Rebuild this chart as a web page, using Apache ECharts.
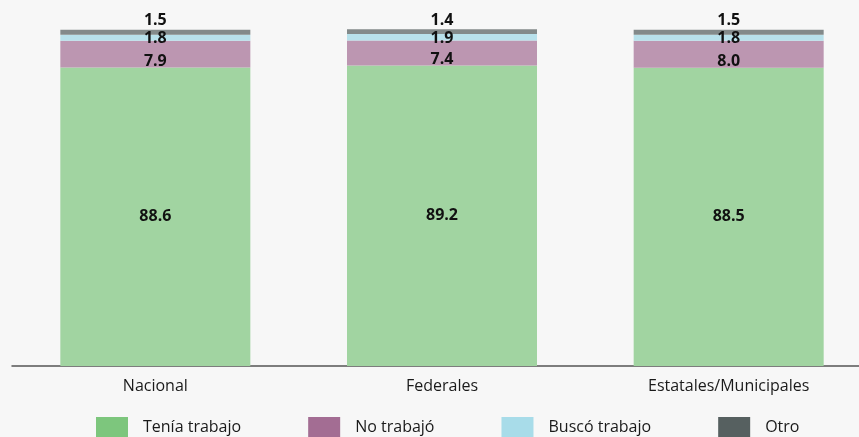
<!DOCTYPE html>
<html>
<head>
<meta charset="utf-8">
<script src="https://cdn.jsdelivr.net/npm/echarts@6/dist/echarts.min.js"></script>
<style>
html, body { margin: 0; padding: 0; background: #f7f7f7; overflow: hidden; }
#main { width: 872px; height: 437px; }
</style>
</head>
<body>
<div id="main"></div>
<script>
var categories = ['Nacional', 'Federales', 'Estatales/Municipales'];
var teniaTrabajo = [88.6, 89.2, 88.5];
var noTrabajo = [7.9, 7.4, 8.0];
var buscoTrabajo = [1.8, 1.9, 1.8];
var otro = [1.5, 1.4, 1.5];

var font = '"Open Sans", "Noto Sans", sans-serif';

// serie apilada con etiqueta
function makeSeries(name, data, color, label) {
	return {
		name : name,
		type : 'bar',
		stack : 'total',
		barWidth : 190,
		data : data,
		itemStyle : {
			color : color
		},
		label : label
	};
}

function labelCfg(pos, offset) {
	return {
		show : true,
		position : pos,
		offset : offset || [0, 0],
		distance : 1,
		color : '#111',
		textBorderWidth : 0,
		fontFamily : font,
		fontWeight : 'bold',
		fontSize : 16,
		formatter : function(p) {
			return p.value.toFixed(1);
		}
	};
}

var myChart = echarts.init(document.getElementById('main'));
var option = {
	backgroundColor : '#f7f7f7',
	animation : false,
	grid : {
		left : 12,
		right : 0,
		top : 29,
		bottom : 71
	},
	legend : {
		left : 91,
		top : 412,
		icon : 'rect',
		itemWidth : 32,
		itemHeight : 20,
		itemGap : 67,
		textStyle : {
			fontFamily : font,
			fontSize : 16,
			color : '#1a1a1a',
			padding : [0, 0, 0, 10]
		},
		data : [
			{ name : 'Tenía trabajo', itemStyle : { color : '#7dc67d' } },
			{ name : 'No trabajó', itemStyle : { color : '#a36d93' } },
			{ name : 'Buscó trabajo', itemStyle : { color : '#a8dce9' } },
			{ name : 'Otro', itemStyle : { color : '#566060' } }
		]
	},
	xAxis : {
		type : 'category',
		data : categories,
		axisLine : { lineStyle : { color : '#555', width : 1.5 } },
		axisTick : { show : false },
		axisLabel : {
			margin : 12,
			color : '#1a1a1a',
			fontFamily : font,
			fontSize : 16
		}
	},
	yAxis : {
		type : 'value',
		min : 0,
		max : 100,
		show : false,
		splitLine : { show : false }
	},
	series : [
		makeSeries('Tenía trabajo', teniaTrabajo, '#a1d4a1', labelCfg('inside')),
		makeSeries('No trabajó', noTrabajo, '#bc96b1', labelCfg('inside', [0, 7])),
		makeSeries('Buscó trabajo', buscoTrabajo, '#b8e1eb', labelCfg('inside', [0, 1])),
		makeSeries('Otro', otro, '#838a8a', labelCfg('top'))
	]
};
myChart.setOption(option);
</script>
</body>
</html>
